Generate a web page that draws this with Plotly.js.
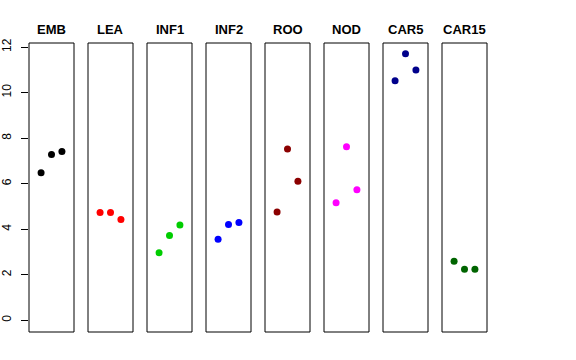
<!DOCTYPE html>
<html><head><meta charset="utf-8">
<script src="https://cdn.plot.ly/plotly-3.0.1.min.js"></script>
<style>body{margin:0;background:#fff}#c{width:576px;height:360px}</style>
</head><body><div id="c"></div>
<script>
const tissues = ["EMB","LEA","INF1","INF2","ROO","NOD","CAR5","CAR15"];
const colors = ["#000000","#FF0000","#00CD00","#0000FF","#8B0000","#FF00FF","#00008B","#006400"];
const replicate = [1,2,3];
const EMB = [6.48,7.28,7.41];
const LEA = [4.73,4.73,4.42];
const INF1 = [2.96,3.72,4.18];
const INF2 = [3.56,4.20,4.29];
const ROO = [4.75,7.52,6.10];
const NOD = [5.16,7.62,5.73];
const CAR5 = [10.52,11.71,10.99];
const CAR15 = [2.59,2.24,2.24];
const values = [EMB,LEA,INF1,INF2,ROO,NOD,CAR5,CAR15];
const yTicks = [0,2,4,6,8,10,12];

const W = 459, step = 59, pw = 45;
const traces = [], shapes = [], annotations = [];
const layout = {
  width:576, height:360, showlegend:false,
  paper_bgcolor:"#fff", plot_bgcolor:"#fff",
  margin:{l:29, r:88, t:43, b:28},
  font:{family:"Liberation Sans, Arial, sans-serif", size:11, color:"#000"},
  yaxis:{range:[-0.52,12.18], tickvals:yTicks, ticktext:yTicks.map(String),
         ticks:"outside", ticklen:7, tickcolor:"#000", tickwidth:1,
         tickangle:-90, ticklabelstandoff:5, showgrid:false, zeroline:false, showline:false,
         tickfont:{size:12, color:"#000"}, anchor:"x"}
};
tissues.forEach((t,i)=>{
  const ax = i===0 ? "x" : "x"+(i+1);
  const axKey = i===0 ? "xaxis" : "xaxis"+(i+1);
  const d0 = i*step/W, d1 = Math.min(1,(i*step+pw)/W);
  layout[axKey] = {domain:[d0,d1], range:[-0.16,4.16], showticklabels:false, ticks:"",
    showgrid:false, zeroline:false, showline:false, anchor:"y", fixedrange:true};
  traces.push({type:"scatter", mode:"markers", x:replicate, y:values[i], xaxis:ax, yaxis:"y",
    marker:{color:colors[i], size:7}, cliponaxis:false});
  shapes.push({type:"rect", xref:ax+" domain", yref:"y domain", x0:0, x1:1, y0:0, y1:1,
    line:{color:"#000", width:1}, fillcolor:"rgba(0,0,0,0)"});
  annotations.push({text:"<b>"+t+"</b>", xref:ax+" domain", yref:"paper", x:0.5, y:1,
    xanchor:"center", yanchor:"bottom", yshift:4, showarrow:false,
    font:{size:13, color:"#000", family:"Liberation Sans, Arial, sans-serif"}});
});
layout.shapes = shapes;
layout.annotations = annotations;
Plotly.newPlot("c", traces, layout, {displayModeBar:false, staticPlot:true});
</script></body></html>
